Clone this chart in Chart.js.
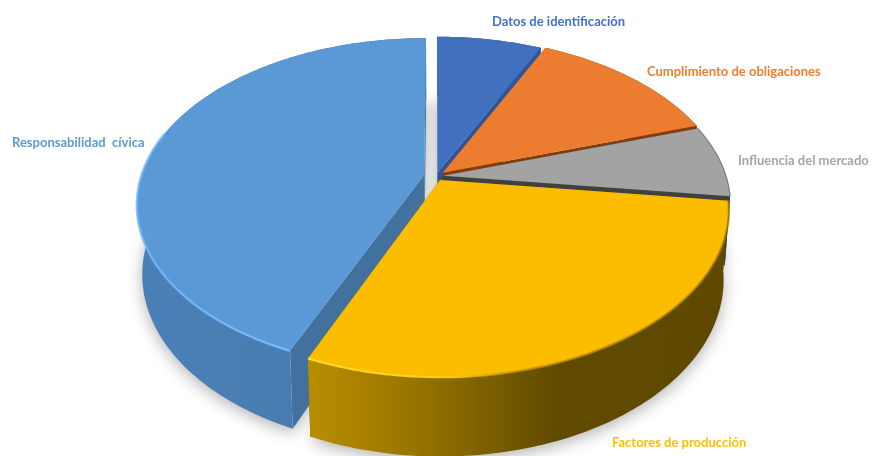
<!DOCTYPE html>
<html>
<head>
<meta charset="utf-8">
<style>
  html, body { margin: 0; padding: 0; background: #fff; }
  canvas { display: block; }
</style>
<script src="https://cdn.jsdelivr.net/npm/chart.js@4"></script>
</head>
<body>
<canvas id="pie3d" width="873" height="456"></canvas>
<script>
// Data
const categories = ['Datos de identificación', 'Cumplimiento de obligaciones', 'Influencia del mercado', 'Factores de producción', 'Responsabilidad  cívica'];
const shares = [7, 13, 7, 29.4, 43.6];

// Styles
const sliceColors = ['#4472c4', '#ed7d31', '#a5a5a5', '#ffc000', '#5b9bd5'];
const topColors = ['#4170bf', '#eb7c30', '#a3a3a3', '#fcbd00', '#5b98d6'];
const faceColors = ['#2f5597', '#843c0c', '#404040', '#7f6000', '#41719c'];
const sliceOffsets = [6, 9, 7, 8, 12];
const paintOrder = [0, 1, 2, 4, 3];
const wallStops = [
    [[0, '#2f5597'], [1, '#2f5597']],
    [[0, '#843c0c'], [1, '#843c0c']],
    [[0, '#404040'], [1, '#404040']],
    [[0.0, '#b88e00'], [0.2, '#a07a00'], [0.34, '#8a6a00'], [0.5, '#6f5500'], [0.6, '#5f4a00'], [1, '#5f4900']],
    [[0.0, '#4a80b8'], [0.3, '#4a7fb4'], [1, '#4377a8']]
];
const labelSpots = [[492, 22], [647, 72], [738, 161], [612, 443], [12, 143]];

// Tilted view of the disc
const view = { cx: 436, cy: 176, rx: 283, ry: 161, depth: 68, persp: 0.176, taper: 0.018 };

function project(u, v, z) {
    const w = 1 - view.persp * v;
    const s = 1 - view.taper * z;
    return [view.cx + view.rx * u * s / w, view.cy + (view.ry * v * s + view.depth * z) / w];
}

function sliceGeom(el) {
    const mid = (el.startAngle + el.endAngle) / 2;
    const off = el.options.offset / view.rx;
    return { a0: el.startAngle, a1: el.endAngle, du: Math.cos(mid) * off, dv: Math.sin(mid) * off };
}

function rimPoints(g, z, from, to) {
    const pts = [];
    const n = Math.max(8, Math.ceil(Math.abs(to - from) / 0.02));
    for (let i = 0; i <= n; i++) {
        const a = from + (to - from) * i / n;
        pts.push(project(Math.cos(a) + g.du, Math.sin(a) + g.dv, z));
    }
    return pts;
}

function poly(ctx, pts) {
    ctx.beginPath();
    pts.forEach((p, i) => i ? ctx.lineTo(p[0], p[1]) : ctx.moveTo(p[0], p[1]));
    ctx.closePath();
}

function strokeRim(ctx, pts, style, width) {
    ctx.beginPath();
    pts.forEach((p, i) => i ? ctx.lineTo(p[0], p[1]) : ctx.moveTo(p[0], p[1]));
    ctx.strokeStyle = style;
    ctx.lineWidth = width;
    ctx.stroke();
}

const pie3dPlugin = {
    id: 'pie3d',
    beforeDatasetDraw(chart) {
        const ctx = chart.ctx;
        const arcs = chart.getDatasetMeta(0).data.map(sliceGeom);
        ctx.save();

        // soft shadow on the floor
        ctx.shadowColor = 'rgba(0,0,0,0.3)';
        ctx.shadowBlur = 16;
        ctx.shadowOffsetY = 4;
        ctx.fillStyle = '#ebebeb';
        arcs.forEach(g => {
            poly(ctx, [project(g.du, g.dv, 1)].concat(rimPoints(g, 1, g.a0, g.a1)));
            ctx.fill();
        });
        ctx.shadowColor = 'transparent';

        paintOrder.forEach(i => {
            const g = arcs[i];
            const tipT = project(g.du, g.dv, 0);
            const tipB = project(g.du, g.dv, 1);

            // cut faces
            ctx.fillStyle = faceColors[i];
            [g.a0, g.a1].forEach(a => {
                const t = project(Math.cos(a) + g.du, Math.sin(a) + g.dv, 0);
                const b = project(Math.cos(a) + g.du, Math.sin(a) + g.dv, 1);
                poly(ctx, [tipT, t, b, tipB]);
                ctx.fill();
            });

            // outer wall
            const topRim = rimPoints(g, 0, g.a0, g.a1);
            const botRim = rimPoints(g, 1, g.a0, g.a1);
            const xs = topRim.concat(botRim).map(p => p[0]);
            const grad = ctx.createLinearGradient(Math.min(...xs), 0, Math.max(...xs), 0);
            wallStops[i].forEach(s => grad.addColorStop(s[0], s[1]));
            ctx.fillStyle = grad;
            poly(ctx, topRim.concat(botRim.reverse()));
            ctx.fill();

            // top
            ctx.fillStyle = topColors[i];
            poly(ctx, [tipT].concat(topRim));
            ctx.fill();
        });

        // bevel along the rims
        const blue = arcs[4];
        const blueRim = rimPoints(blue, 0, blue.a0, blue.a1 - 1.3);
        const blueGrad = ctx.createLinearGradient(0, 180, 0, 350);
        blueGrad.addColorStop(0, 'rgba(112,184,250,0.75)');
        blueGrad.addColorStop(1, 'rgba(112,184,250,1)');
        strokeRim(ctx, blueRim, blueGrad, 2.4);

        const yellow = arcs[3];
        const yellowRim = rimPoints(yellow, 0, yellow.a0, yellow.a1);
        const yellowGrad = ctx.createLinearGradient(300, 0, 730, 0);
        yellowGrad.addColorStop(0, 'rgba(255,222,50,1)');
        yellowGrad.addColorStop(0.35, 'rgba(255,205,20,0.9)');
        yellowGrad.addColorStop(0.5, 'rgba(190,145,0,0.8)');
        yellowGrad.addColorStop(1, 'rgba(150,115,0,0.75)');
        strokeRim(ctx, yellowRim, yellowGrad, 2.2);

        const gray = arcs[2];
        strokeRim(ctx, rimPoints(gray, 0, gray.a0, gray.a1), '#7f7f7f', 1.2);

        ctx.restore();
        return false; // slices are painted above
    },
    afterDraw(chart) {
        const ctx = chart.ctx;
        ctx.save();
        ctx.font = 'bold 13px Lato, "Liberation Sans", sans-serif';
        ctx.textAlign = 'left';
        ctx.textBaseline = 'middle';
        categories.forEach((name, i) => {
            ctx.fillStyle = sliceColors[i];
            ctx.fillText(name, labelSpots[i][0], labelSpots[i][1]);
        });
        ctx.restore();
    }
};

new Chart(document.getElementById('pie3d'), {
    type: 'pie',
    data: {
        labels: categories,
        datasets: [{
            data: shares,
            backgroundColor: sliceColors,
            offset: sliceOffsets,
            borderWidth: 0
        }]
    },
    options: {
        responsive: false,
        animation: false,
        plugins: {
            legend: { display: false },
            tooltip: { enabled: false }
        }
    },
    plugins: [pie3dPlugin]
});
</script>
</body>
</html>
